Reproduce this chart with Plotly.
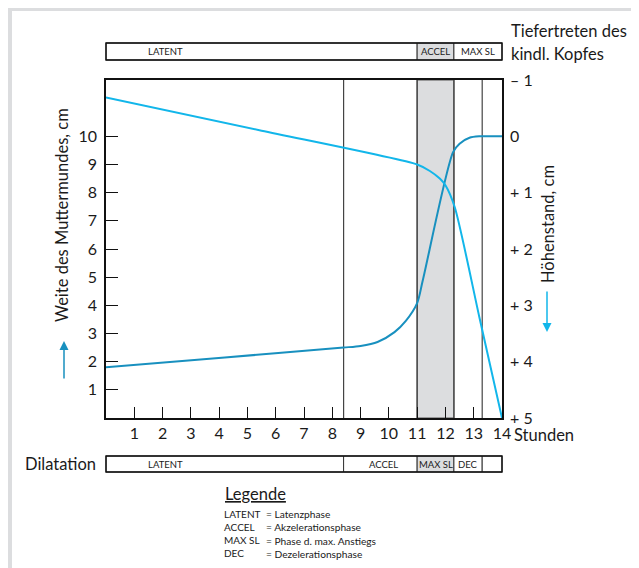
import plotly.graph_objects as go

# ---------------- data ----------------
hours = list(range(1, 15))
dil_ticks = list(range(1, 11))
station_ticks = [-1, 0, 1, 2, 3, 4, 5]
station_labels = ["\u2013 1", "0", "+ 1", "+ 2", "+ 3", "+ 4", "+ 5"]

# Dilatation (Weite des Muttermundes, cm)
dil_x = [0, 4.2, 8.4, 9.0, 9.6, 10.2, 10.6, 11.0, 11.2, 12.27, 12.5, 12.85, 13.2, 14]
dil_y = [1.8, 2.15, 2.5, 2.56, 2.7, 3.05, 3.45, 4.08, 4.89, 9.44, 9.74, 9.95, 10.0, 10.0]

# Tiefertreten des kindl. Kopfes (Höhenstand, cm)
desc_x = [0, 5.5, 11.0, 11.45, 11.8, 12.0, 12.33, 13.2, 14]
desc_y = [-0.69, -0.1, 0.5, 0.615, 0.75, 0.87, 1.26, 3.21, 5.0]

# phases
top_bounds = [0, 11, 12.3, 14]
top_labels = ["LATENT", "ACCEL", "MAX SL"]
top_fill = [False, True, False]
bot_bounds = [0, 8.4, 11, 12.3, 13.3, 14]
bot_labels = ["LATENT", "ACCEL", "MAX SL", "DEC", ""]
bot_fill = [False, False, True, False, False]
phase_lines = [8.4, 11, 12.3, 13.3]
shade = (11, 12.3)

legend_keys = ["LATENT", "ACCEL", "MAX SL", "DEC"]
legend_vals = ["= Latenzphase", "= Akzelerationsphase", "= Phase d. max. Anstiegs", "= Dezelerationsphase"]

# ---------------- layout helpers ----------------
OFF = 8  # page body margin
PAGE_W, PAGE_H = 639, 568
W, H = PAGE_W - OFF, PAGE_H - OFF
L, R, T, B = 106 - OFF, 502 - OFF, 80 - OFF, 418 - OFF
XMAX = 14

def px(p):
    return (p - OFF - L) / (R - L)

def py(p):
    return (B - (p - OFF)) / (B - T)

def hx(h):
    return h / XMAX

FONT = "Lato"
TXT = "#1a1a1a"
DARK = "#1890bf"
CYAN = "#12b6ea"
GREY = "#dcdddf"

fig = go.Figure()
fig.add_trace(go.Scatter(x=dil_x, y=dil_y, mode="lines", line=dict(color=DARK, width=2, shape="spline", smoothing=0.8),
                         yaxis="y", showlegend=False, hoverinfo="skip"))
fig.add_trace(go.Scatter(x=desc_x, y=desc_y, mode="lines", line=dict(color=CYAN, width=2, shape="spline", smoothing=0.7),
                         yaxis="y2", showlegend=False, hoverinfo="skip"))

shapes = []
# frame decoration
shapes.append(dict(type="rect", xref="paper", yref="paper", x0=px(0), x1=px(PAGE_W + 5), y0=py(3), y1=py(11),
                   fillcolor=GREY, line=dict(width=0), layer="below"))
shapes.append(dict(type="rect", xref="paper", yref="paper", x0=px(0), x1=px(12), y0=py(3), y1=py(PAGE_H + 5),
                   fillcolor=GREY, line=dict(width=0), layer="below"))
# shaded region in plot
shapes.append(dict(type="rect", xref="x", yref="paper", x0=shade[0], x1=shade[1], y0=0, y1=1,
                   fillcolor=GREY, line=dict(color="#555555", width=1.2), layer="below"))
for v in phase_lines:
    shapes.append(dict(type="line", xref="x", yref="paper", x0=v, x1=v, y0=0, y1=1,
                       line=dict(color="#444444", width=1.2), layer="below"))

annotations = []

def bar(bounds, labels, fills, ytop, ybot, label_pos):
    ymid = (ytop + ybot) / 2
    for i in range(len(labels)):
        a, b = bounds[i], bounds[i + 1]
        shapes.append(dict(type="rect", xref="paper", yref="paper", x0=hx(a), x1=hx(b), y0=py(ybot), y1=py(ytop),
                           fillcolor=GREY if fills[i] else "white", line=dict(color="#333333", width=1)))
        if labels[i]:
            xc = label_pos.get(i, (a + b) / 2)
            annotations.append(dict(x=xc, xref="x", y=py(ymid), yref="paper", text=labels[i], showarrow=False,
                                    font=dict(family=FONT, size=9.5, color=TXT), xanchor="center", yanchor="middle"))
    shapes.append(dict(type="rect", xref="paper", yref="paper", x0=hx(bounds[0]), x1=hx(bounds[-1]),
                       y0=py(ybot), y1=py(ytop), line=dict(color="#111111", width=1.4)))

bar(top_bounds, top_labels, top_fill, 43, 60, {0: 2.1})
bar(bot_bounds, bot_labels, bot_fill, 456, 472, {0: 2.1, 1: 9.8})

def text(x, y, s, size=16.5, xanchor="left", yanchor="middle", angle=0):
    annotations.append(dict(x=px(x), y=py(y), xref="paper", yref="paper", text=s, showarrow=False,
                            font=dict(family=FONT, size=size, color=TXT), xanchor=xanchor, yanchor=yanchor,
                            textangle=angle, align="left"))

text(509, 31, "Tiefertreten des")
text(509, 54, "kindl. Kopfes")
text(512, 435, "Stunden")
text(98, 464, "Dilatation", xanchor="right")
text(62, 215, "Weite des Muttermundes, cm", xanchor="center", angle=-90)
text(548, 224, "Höhenstand, cm", xanchor="center", angle=-90)
text(223, 494, "<u>Legende</u>", size=16.5)
text(222, 506, "<br>".join(legend_keys), size=10, yanchor="top")
text(264, 506, "<br>".join(legend_vals), size=10.2, yanchor="top")

# arrows
annotations.append(dict(x=px(64), y=py(341), xref="paper", yref="paper", ax=0, ay=39, text="",
                        showarrow=True, arrowhead=2, arrowsize=1.2, arrowwidth=1.5, arrowcolor=DARK))
annotations.append(dict(x=px(547), y=py(332), xref="paper", yref="paper", ax=0, ay=-42, text="",
                        showarrow=True, arrowhead=2, arrowsize=1.2, arrowwidth=1.5, arrowcolor=CYAN))

fig.update_layout(
    width=W, height=H,
    margin=dict(l=L, r=W - R, t=T, b=H - B, pad=0),
    paper_bgcolor="white", plot_bgcolor="white",
    font=dict(family=FONT, size=16, color=TXT),
    shapes=shapes, annotations=annotations,
    xaxis=dict(range=[0, XMAX], tickvals=hours, ticks="inside", ticklen=11, tickwidth=1.2, tickcolor="#111",
               showline=True, linecolor="#111", linewidth=1.5, mirror=True, showgrid=False, zeroline=False,
               tickfont=dict(family=FONT, size=16, color=TXT), fixedrange=True),
    yaxis=dict(range=[0, 12], tickvals=dil_ticks, ticks="inside", ticklen=12, tickwidth=1.2, tickcolor="#111",
               showline=True, linecolor="#111", linewidth=1.5, mirror=True, showgrid=False, zeroline=False,
               tickfont=dict(family=FONT, size=16, color=TXT), ticklabelstandoff=4),
    yaxis2=dict(range=[5, -1], overlaying="y", side="right", tickvals=station_ticks, ticktext=station_labels,
                ticks="", showline=False, showgrid=False, zeroline=False,
                tickfont=dict(family=FONT, size=16, color=TXT), ticklabelstandoff=7),
)

fig.write_html("out.html")
